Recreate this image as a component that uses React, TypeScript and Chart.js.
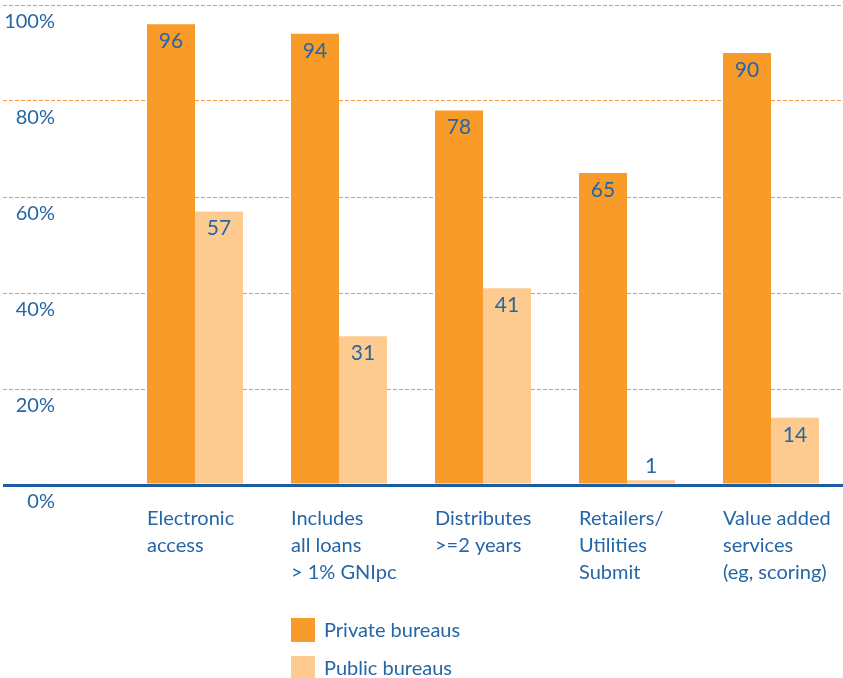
import React, { useEffect, useRef } from 'react';
import { Chart, registerables } from 'chart.js';

Chart.register(...registerables);

const categories: string[][] = [
  ['Electronic', 'access'],
  ['Includes', 'all loans', '> 1% GNIpc'],
  ['Distributes', '>=2 years'],
  ['Retailers/', 'Utilities', 'Submit'],
  ['Value added', 'services', '(eg, scoring)'],
];
const privateBureaus = [96, 94, 78, 65, 90];
const publicBureaus = [57, 31, 41, 1, 14];
const seriesLabels = ['Private bureaus', 'Public bureaus'];
const seriesColors = ['#F89B29', '#FDCB90'];
const yMin = 0;
const yMax = 100;
const yStep = 20;

const TEXT_BLUE = '#2566A6';
const AXIS_BLUE = '#1C5CA2';
const GRID_ORANGE = '#F39A45';
const FONT = 'Lato';
const DASH = [4, 2];

const valueLabels = {
  id: 'valueLabels',
  afterDatasetsDraw(chart: any) {
    const ctx = chart.ctx;
    ctx.save();
    ctx.font = `21px ${FONT}`;
    ctx.fillStyle = TEXT_BLUE;
    ctx.textAlign = 'center';
    ctx.textBaseline = 'middle';
    chart.data.datasets.forEach((ds: any, di: number) => {
      const meta = chart.getDatasetMeta(di);
      meta.data.forEach((bar: any, i: number) => {
        const v = ds.data[i];
        const { x, y } = bar.getProps(['x', 'y'], true);
        const ty = v >= 6 ? y + 17 : y - 14;
        ctx.fillText(String(v), x, ty);
      });
    });
    ctx.restore();
  },
};

const isZero = (c: any) => c && c.tick && c.tick.value === 0;

export default function App() {
  const ref = useRef<HTMLCanvasElement | null>(null);

  useEffect(() => {
    if (!ref.current) return;
    const chart = new Chart(ref.current, {
      type: 'bar',
      data: {
        labels: categories,
        datasets: [
          {
            label: seriesLabels[0],
            data: privateBureaus,
            backgroundColor: seriesColors[0],
            categoryPercentage: 2 / 3,
            barPercentage: 1,
          },
          {
            label: seriesLabels[1],
            data: publicBureaus,
            backgroundColor: seriesColors[1],
            categoryPercentage: 2 / 3,
            barPercentage: 1,
          },
        ],
      },
      options: {
        responsive: false,
        animation: false,
        layout: { padding: { top: 5, left: 0, right: 0, bottom: 0 } },
        plugins: {
          legend: { display: false },
          tooltip: { enabled: false },
        },
        scales: {
          x: {
            z: 1,
            grid: { display: false },
            border: { display: true, color: AXIS_BLUE, width: 3 },
            ticks: {
              align: 'start',
              labelOffset: -48,
              padding: 12,
              color: TEXT_BLUE,
              font: { family: FONT, size: 20, lineHeight: 1.35 },
              maxRotation: 0,
              autoSkip: false,
            },
            afterFit: (s: any) => {
              s.height = 193;
              s.paddingLeft = 0;
              s.paddingRight = 0;
            },
          },
          y: {
            min: yMin,
            max: yMax,
            grid: {
              color: (c: any) => (isZero(c) ? AXIS_BLUE : GRID_ORANGE),
              lineWidth: (c: any) => (isZero(c) ? 3 : 1),
              tickLength: 120,
              tickColor: (c: any) => (isZero(c) ? AXIS_BLUE : GRID_ORANGE),
              tickWidth: (c: any) => (isZero(c) ? 3 : 1),
              tickBorderDash: (c: any) => (isZero(c) ? [] : DASH),
            },
            border: {
              display: false,
              dash: (c: any) => (isZero(c) ? [] : DASH),
            },
            ticks: {
              stepSize: yStep,
              callback: (v: any) => `${v}%`,
              labelOffset: 17,
              padding: -52,
              color: TEXT_BLUE,
              font: { family: FONT, size: 20 },
            },
            afterFit: (s: any) => {
              s.width = 123;
              s.paddingTop = 0;
              s.paddingBottom = 0;
            },
          },
        },
      },
      plugins: [valueLabels],
    } as any);
    return () => chart.destroy();
  }, []);

  return (
    <div style={{ position: 'fixed', left: 0, top: 0, width: 843, height: 678, background: '#fff' }}>
      <canvas ref={ref} width={843} height={678} style={{ display: 'block' }} />
      {seriesLabels.map((lab, i) => (
        <div
          key={lab}
          style={{
            position: 'absolute',
            left: 291,
            top: 618 + i * 38,
            height: 24,
            display: 'flex',
            alignItems: 'center',
            fontFamily: FONT,
            fontSize: 20,
            color: TEXT_BLUE,
            whiteSpace: 'nowrap',
          }}
        >
          <span style={{ display: 'inline-block', width: 24, height: 24, background: seriesColors[i], marginRight: 9 }} />
          <span style={{ position: 'relative', top: -1 }}>{lab}</span>
        </div>
      ))}
    </div>
  );
}
